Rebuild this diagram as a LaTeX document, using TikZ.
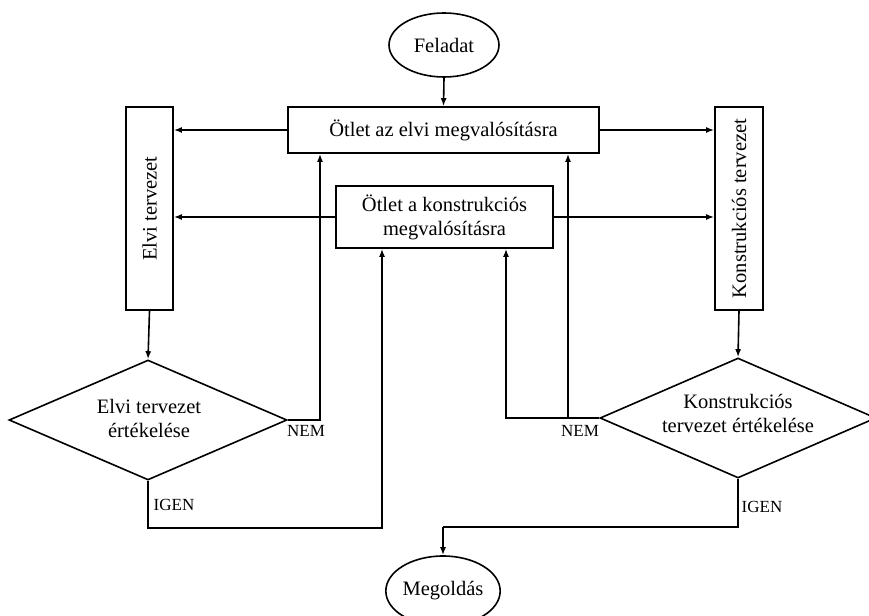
\documentclass[tikz,border=0pt]{standalone}
\usepackage{fontspec}
\setmainfont{Liberation Serif}
\usetikzlibrary{shapes.geometric,arrows.meta}
\begin{document}
\begin{tikzpicture}[x=1pt,y=-1pt,
  every node/.style={font=\fontsize{20.5}{24}\selectfont},
  line/.style={line width=1.6pt},
  arr/.style={line width=1.6pt,-{Latex[length=8pt,width=6pt]}},
  box/.style={draw,line width=1.6pt,inner sep=0pt,align=center},
  ell/.style={draw,ellipse,line width=1.6pt,inner sep=0pt},
  dia/.style={draw,diamond,line width=1.6pt,inner sep=0pt,align=center},
  lbl/.style={font=\fontsize{17}{20}\selectfont,inner sep=0pt}]
\useasboundingbox (0,0) rectangle (869,615);
\node[ell,minimum width=110pt,minimum height=64pt] (feladat) at (444,45) {Feladat};
\node[box,minimum width=311pt,minimum height=46pt] (otlet1) at (443.5,130) {Ötlet az elvi megvalósításra};
\node[box,minimum width=217pt,minimum height=62pt] (otlet2) at (444.5,217) {Ötlet a konstrukciós\\megvalósításra};
\node[box,minimum width=47pt,minimum height=203pt] (elvi) at (149.5,208.5) {};
\node[rotate=90] at (elvi.center) {Elvi tervezet};
\node[box,minimum width=48pt,minimum height=203pt] (konstr) at (739,208.5) {};
\node[rotate=90] at (konstr.center) {Konstrukciós tervezet};
\node[dia,minimum width=278pt,minimum height=120pt] (d1) at (148,420) {};
\node[align=center] at (149,418) {Elvi tervezet\\értékelése};
\node[dia,minimum width=276pt,minimum height=120pt] (d2) at (738,418) {};
\node[align=center] at (738,413) {Konstrukciós\\tervezet értékelése};
\node[ell,minimum width=111pt,minimum height=70pt] (megoldas) at (443,591) {Megoldás};
% connectors
\draw[arr] (feladat.south) -- (otlet1.north);
\draw[arr] (otlet1.west) -- (elvi.east |- otlet1.west);
\draw[arr] (otlet1.east) -- (konstr.west |- otlet1.east);
\draw[arr] (otlet2.west) -- (elvi.east |- otlet2.west);
\draw[arr] (otlet2.east) -- (konstr.west |- otlet2.east);
\draw[arr] (elvi.south) -- (d1.north);
\draw[arr] (konstr.south) -- (d2.north);
\coordinate (n1) at (320,420);
\draw[arr] (d1.east) -- (n1) -- (n1 |- otlet1.south);
\coordinate (i1) at (382,528);
\draw[arr] (d1.south) |- (i1) -- (i1 |- otlet2.south);
\coordinate (n2) at (506,418);
\coordinate (n3) at (568,418);
\draw[arr] (d2.west) -- (n2) -- (n2 |- otlet2.south);
\draw[arr] (n3) -- (n3 |- otlet1.south);
\coordinate (i2) at (443,527);
\draw[line] (d2.south) |- (i2);
\draw[arr] (i2) -- (megoldas.north);
% labels
\node[lbl] at (306,431) {NEM};
\node[lbl] at (580,431) {NEM};
\node[lbl] at (174,505) {IGEN};
\node[lbl] at (762,507) {IGEN};
\end{tikzpicture}
\end{document}
